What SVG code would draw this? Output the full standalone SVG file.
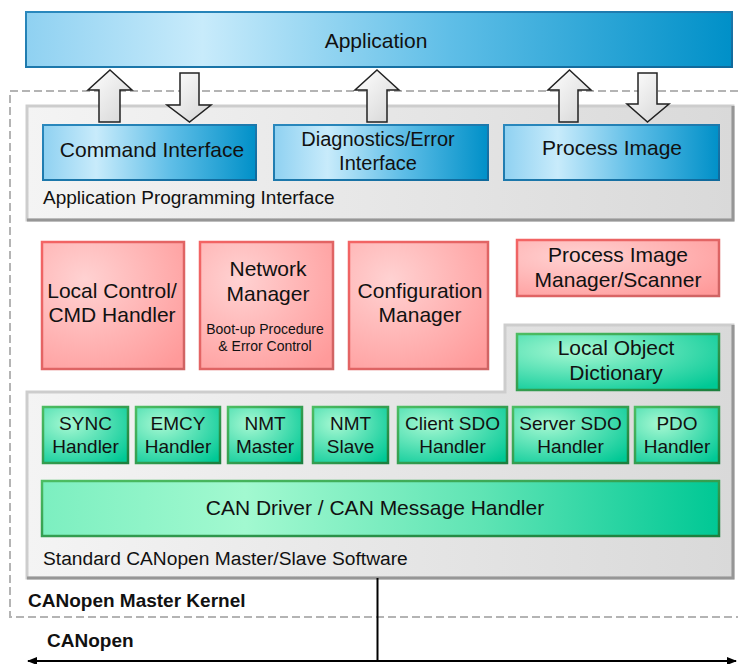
<svg xmlns="http://www.w3.org/2000/svg" width="738" height="664" viewBox="0 0 738 664">
<defs>
  <linearGradient id="gBlue" x1="0" y1="0" x2="1" y2="0">
    <stop offset="0" stop-color="#8fd1f1"/>
    <stop offset="0.25" stop-color="#c8ebfb"/>
    <stop offset="0.6" stop-color="#5fbee7"/>
    <stop offset="1" stop-color="#0090c8"/>
  </linearGradient>
  <radialGradient id="gRed" cx="0.3" cy="0.3" r="0.9">
    <stop offset="0" stop-color="#ffd2d2"/>
    <stop offset="1" stop-color="#ff9a9a"/>
  </radialGradient>
  <radialGradient id="gGreen" cx="0.3" cy="0.3" r="0.9">
    <stop offset="0" stop-color="#a6f8d2"/>
    <stop offset="1" stop-color="#00c895"/>
  </radialGradient>
  <linearGradient id="gGreenWide" x1="0" y1="0" x2="1" y2="0">
    <stop offset="0" stop-color="#7cefc0"/>
    <stop offset="0.3" stop-color="#a2f9d0"/>
    <stop offset="0.65" stop-color="#5fe4b4"/>
    <stop offset="1" stop-color="#00c895"/>
  </linearGradient>
  <linearGradient id="gGray" x1="0" y1="0" x2="1" y2="0">
    <stop offset="0" stop-color="#f4f4f4"/>
    <stop offset="1" stop-color="#d9d9d9"/>
  </linearGradient>
  <linearGradient id="gArrow" x1="0" y1="0" x2="1" y2="1">
    <stop offset="0" stop-color="#ffffff"/>
    <stop offset="1" stop-color="#d4d4d4"/>
  </linearGradient>
  <linearGradient id="sBlue" x1="0" y1="0" x2="1" y2="1">
    <stop offset="0" stop-color="#2a88bd"/>
    <stop offset="1" stop-color="#10699b"/>
  </linearGradient>
  <linearGradient id="sRed" x1="0" y1="0" x2="1" y2="1">
    <stop offset="0" stop-color="#f46464"/>
    <stop offset="1" stop-color="#cf6464"/>
  </linearGradient>
  <linearGradient id="sGreen" x1="0" y1="0" x2="1" y2="1">
    <stop offset="0" stop-color="#4cbd62"/>
    <stop offset="1" stop-color="#1c7f3e"/>
  </linearGradient>
  <marker id="ah" viewBox="0 0 10 8" refX="9" refY="4" markerWidth="10" markerHeight="8" markerUnits="userSpaceOnUse" orient="auto-start-reverse">
    <path d="M0,0 L10,4 L0,8 Z" fill="#000"/>
  </marker>
  <style>
    text { font-family: "Liberation Sans", Arial, sans-serif; fill: #111; }
    .t21 { font-size: 21px; text-anchor: middle; }
    .t19 { font-size: 19px; text-anchor: middle; }
    .t14 { font-size: 14px; text-anchor: middle; }
    .lbl { font-size: 19px; }
    .bold { font-size: 19px; font-weight: bold; }
    .blue { fill: url(#gBlue); stroke: url(#sBlue); stroke-width: 2; }
    .red { fill: url(#gRed); stroke: url(#sRed); stroke-width: 2.5; }
    .green { fill: url(#gGreen); stroke: url(#sGreen); stroke-width: 2.5; }
    .gray { fill: url(#gGray); stroke: #cdcdcd; stroke-width: 3; }
    .shadow { fill: none; stroke: #969696; stroke-width: 3; }
    .arrow { fill: url(#gArrow); stroke: #222; stroke-width: 1.5; stroke-linejoin: miter; }
    .dash { fill: none; stroke: #b4b4b4; stroke-width: 2; stroke-dasharray: 8 4; }
  </style>
</defs>

<g id="application">
  <rect class="blue" x="26" y="12" width="706" height="55"/>
  <text class="t21" x="376" y="48">Application</text>
</g>

<g id="master-kernel">
  <rect class="dash" x="10" y="91" width="740" height="526"/>
  <text class="bold" x="28" y="607">CANopen Master Kernel</text>
</g>

<g id="api">
  <rect class="gray" x="27" y="106" width="706" height="114"/>
  <polyline class="shadow" points="733,106 733,220 27,220"/>
  <text class="lbl" x="43" y="204">Application Programming Interface</text>
</g>

<g id="command-interface">
  <rect class="blue" x="43" y="125" width="213" height="55"/>
  <text class="t21" x="152" y="157">Command Interface</text>
</g>
<g id="diagnostics-interface">
  <rect class="blue" x="274" y="125" width="214" height="55"/>
  <text class="t19" x="378" y="146" style="font-size:20px">Diagnostics/Error</text>
  <text class="t19" x="378" y="170" style="font-size:20px">Interface</text>
</g>
<g id="process-image">
  <rect class="blue" x="504" y="125" width="215" height="55"/>
  <text class="t21" x="612" y="155">Process Image</text>
</g>

<g id="local-control">
  <rect class="red" x="42" y="242" width="142" height="127"/>
  <text class="t21" x="112" y="298">Local Control/</text>
  <text class="t21" x="112" y="322">CMD Handler</text>
</g>
<g id="network-manager">
  <rect class="red" x="200" y="242" width="133" height="127"/>
  <text class="t21" x="268" y="276">Network</text>
  <text class="t21" x="268" y="301">Manager</text>
  <text class="t14" x="265" y="334">Boot-up Procedure</text>
  <text class="t14" x="265" y="351">&amp; Error Control</text>
</g>
<g id="configuration-manager">
  <rect class="red" x="349" y="242" width="139" height="127"/>
  <text class="t21" x="420" y="298">Configuration</text>
  <text class="t21" x="420" y="322">Manager</text>
</g>
<g id="process-image-manager">
  <rect class="red" x="517" y="240" width="202" height="56"/>
  <text class="t21" x="618" y="262">Process Image</text>
  <text class="t21" x="618" y="287">Manager/Scanner</text>
</g>

<g id="standard-software">
  <path class="gray" d="M27,392 H505 V325 H733 V578 H27 Z"/>
  <polyline class="shadow" points="733,325 733,578 27,578"/>
  <text class="lbl" x="43" y="565" style="font-size:19.2px">Standard CANopen Master/Slave Software</text>
</g>

<g id="object-dictionary">
  <rect class="green" x="517" y="334" width="202" height="56"/>
  <text class="t21" x="616" y="355">Local Object</text>
  <text class="t21" x="616" y="380">Dictionary</text>
</g>

<g id="sync-handler">
  <rect class="green" x="43" y="407" width="85" height="56"/>
  <text class="t19" x="85.5" y="430">SYNC</text>
  <text class="t19" x="85.5" y="453">Handler</text>
</g>
<g id="emcy-handler">
  <rect class="green" x="136" y="407" width="84" height="56"/>
  <text class="t19" x="178" y="430">EMCY</text>
  <text class="t19" x="178" y="453">Handler</text>
</g>
<g id="nmt-master">
  <rect class="green" x="228" y="407" width="74" height="56"/>
  <text class="t19" x="265" y="430">NMT</text>
  <text class="t19" x="265" y="453">Master</text>
</g>
<g id="nmt-slave">
  <rect class="green" x="313" y="407" width="75" height="56"/>
  <text class="t19" x="350.5" y="430">NMT</text>
  <text class="t19" x="350.5" y="453">Slave</text>
</g>
<g id="client-sdo">
  <rect class="green" x="398" y="407" width="109" height="56"/>
  <text class="t19" x="452.5" y="430">Client SDO</text>
  <text class="t19" x="452.5" y="453">Handler</text>
</g>
<g id="server-sdo">
  <rect class="green" x="513" y="407" width="115" height="56"/>
  <text class="t19" x="570.5" y="430">Server SDO</text>
  <text class="t19" x="570.5" y="453">Handler</text>
</g>
<g id="pdo-handler">
  <rect class="green" x="635" y="407" width="84" height="56"/>
  <text class="t19" x="677" y="430">PDO</text>
  <text class="t19" x="677" y="453">Handler</text>
</g>

<g id="can-driver">
  <rect x="42" y="481" width="677" height="55" fill="url(#gGreenWide)" stroke="url(#sGreen)" stroke-width="2.5"/>
  <text class="t21" x="375" y="515">CAN Driver / CAN Message Handler</text>
</g>

<g id="canopen-bus">
  <text class="bold" x="47" y="647">CANopen</text>
</g>

<g id="connectors">
  <polygon class="arrow" points="110,70 132,90 120,90 120,122 99,122 99,90 88,90"/>
  <polygon class="arrow" points="180,73 199,73 199,105 211,105 189.5,122 167,105 180,105"/>
  <polygon class="arrow" points="377,70 399,90 387,90 387,122 367,122 367,90 355,90"/>
  <polygon class="arrow" points="569.5,70 591,90 578,90 578,122 559,122 559,90 548,90"/>
  <polygon class="arrow" points="638,73 657,73 657,104 669,104 647.5,122 627,104 638,104"/>
  <line x1="377.5" y1="578" x2="377.5" y2="661" stroke="#000" stroke-width="2"/>
  <line x1="28" y1="661" x2="736" y2="661" stroke="#000" stroke-width="2" marker-start="url(#ah)" marker-end="url(#ah)"/>
</g>
</svg>
